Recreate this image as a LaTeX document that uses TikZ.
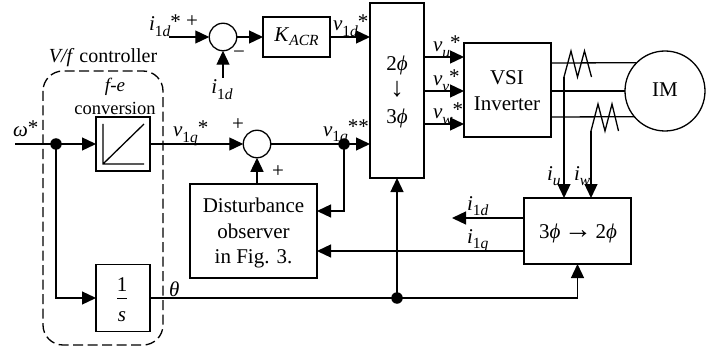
\documentclass[tikz,border=0pt]{standalone}
\usepackage{fontspec}
\setmainfont{Liberation Serif}
\usetikzlibrary{arrows.meta}
\newcommand{\vr}[2]{\textit{#1}\raisebox{-0.25em}{\fontsize{15.5}{15.5}\selectfont #2}}
\newcommand{\st}{\raisebox{0.1em}{*}}
\begin{document}
\begin{tikzpicture}[x=1pt,y=-1pt,
  line width=1.3pt,
  every node/.style={font=\fontsize{21}{24}\selectfont,inner sep=0pt,outer sep=0pt},
  blockbox/.style={draw,fill=white,line width=1.3pt,rectangle,minimum width=#1},
  sumj/.style={draw,fill=white,circle,minimum size=27.5pt,line width=1.3pt},
  dotj/.style={fill=black,circle,minimum size=11.5pt},
  arr/.style={-{Triangle[length=14pt,width=13pt]}},
  lab/.style={anchor=base west},
  clab/.style={anchor=base}]
\useasboundingbox (0,0) rectangle (720,350);
% frame of the controller
\draw[dash pattern=on 10pt off 4.5pt,line width=1.3pt,rounded corners=20pt] (43,71) rectangle (163,345);
% blocks
\node[sumj] (s1) at (223,37) {};
\node[blockbox=67pt,minimum height=40pt] (kacr) at (296.5,37) {\textit{K}\raisebox{-0.2em}{\fontsize{15.5}{15.5}\selectfont\textit{ACR}}};
\node[blockbox=54pt,minimum height=175pt] (tr23) at (397,90.5) {};
\node[blockbox=54pt,minimum height=54pt] (fe) at (123,144) {};
\node[blockbox=54pt,minimum height=67pt] (int) at (123,298) {};
\node[sumj] (s2) at (257,144) {};
\node[blockbox=127pt,minimum height=94pt,align=center] (dob) at (253.5,231) {};
\node[blockbox=87pt,minimum height=94pt] (vsi) at (507.5,90) {};
\node[blockbox=107pt,minimum height=66pt] (tr32) at (577.5,231) {};
\node[draw,circle,minimum size=80pt,line width=1.3pt,fill=white] (im) at (665,91) {};
% junctions and free ends
\node[dotj] (jw) at (56,144) {};
\node[dotj] (jv) at (344,144) {};
\node[dotj] (jt) at (397,298) {};
\coordinate (wstart) at (15,144);
\coordinate (idstart) at (169,37);
\coordinate (idfb) at (223,78);
\coordinate (idend) at (452,218);
\coordinate (cu) at (564,77);
\coordinate (cw) at (591,131);
% connectors
\draw[arr] (idstart) -- (s1.west);
\draw[arr] (idfb) -- (s1.south);
\draw[arr] (s1.east) -- (kacr.west);
\draw[arr] (kacr.east) -- (tr23.west |- kacr.east);
\draw[arr] (wstart) -- (fe.west);
\draw[arr] (fe.east) -- (s2.west);
\draw (s2.east) -- (jv.center);
\draw[arr] (jv.center) -- (tr23.west |- jv.center);
\draw[arr] (jw.center) |- (int.west);
\draw[arr] (dob.north -| s2.south) -- (s2.south);
\draw[arr] (jv.center) |- (dob.east |- 0,211);
\draw[arr] (tr32.west |- 0,251) -- (dob.east |- 0,251);
\draw[arr] (tr32.west |- idend) -- (idend);
\draw (int.east) -- (jt.center);
\draw[arr] (jt.center) -- (tr23.south);
\draw[arr] (jt.center) -| (tr32.south);
\draw[arr] (tr23.east |- 0,57) -- (vsi.west |- 0,57);
\draw[arr] (tr23.east |- 0,91) -- (vsi.west |- 0,91);
\draw[arr] (tr23.east |- 0,124) -- (vsi.west |- 0,124);
\draw (vsi.east |- 0,63) -- (im.135.6);
\draw (vsi.east |- 0,91) -- (im.west);
\draw (vsi.east |- 0,117) -- (im.220.5);
\draw[arr] (cu) -- (cu |- tr32.north);
\draw[arr] (cw) -- (cw |- tr32.north);
\draw (cu) -- ++(7,-26) -- ++(6.5,26) -- ++(7,-26) -- ++(7,26);
\draw (cw) -- ++(7,-27) -- ++(7,27) -- ++(7,-27) -- ++(6.5,27);
% inside the e-f block
\coordinate (fa) at (103,124);
\coordinate (fo) at (103,164);
\coordinate (fb) at (144,164);
\coordinate (fc) at (144,124);
\draw (fa) -- (fo) -- (fb) (fo) -- (fc);
% block labels
\node[clab] (t1) at (253.5,212) {Disturbance};
\node[clab] (t2) at (253.5,238) {observer};
\node[clab] (t3) at (253.5,263) {in Fig. 3.};
\node[clab] (t4) at (507,85) {VSI};
\node[clab] (t5) at (507,111) {Inverter};
\node[clab] (t6) at (665,97) {IM};
\node[clab] (t7) at (397,71) {2\textit{ϕ}};
\node[clab] (t8) at (397,97) {\fontsize{27}{27}\selectfont ↓};
\node[clab] (t9) at (397,124) {3\textit{ϕ}};
\node[clab] (t10) at (578,238) {3\textit{ϕ}\,{\fontsize{28}{28}\selectfont →}\,2\textit{ϕ}};
\node[clab] (t11) at (122,291) {1};
\node[clab] (t12) at (122,321) {\textit{s}};
\coordinate (ba) at (117,298);
\coordinate (bb) at (127,298);
\draw[line width=0.7pt] (ba) -- (bb);
% signal labels
\node[lab] (l1) at (149,31) {\vr{i}{1\textit{d}}\st};
\node[lab] (l2) at (186,28) {+};
\node[lab] (l3) at (233,59) {−};
\node[clab] (l4) at (222,94) {\vr{i}{1\textit{d}}};
\node[lab] (l5) at (333,31) {\vr{v}{1\textit{d}}\st};
\node[clab] (l6) at (103,63) {\fontsize{20}{24}\selectfont\textit{V/f} controller};
\node[clab] (l7) at (115,92) {\fontsize{19}{24}\selectfont\textit{f-e}};
\node[clab] (l8) at (115,115) {\fontsize{18.5}{24}\selectfont conversion};
\node[lab] (l9) at (13,137) {\textit{ω}\st};
\node[lab] (l10) at (173,137) {\vr{v}{1\textit{q}}\st};
\node[lab] (l11) at (232,131) {+};
\node[lab] (l12) at (272,177) {+};
\node[lab] (l13) at (323,136) {\vr{v}{1\textit{q}}\st\st};
\node[lab] (l14) at (169,296) {\textit{θ}};
\node[lab] (l15) at (433,52) {\vr{v}{\textit{u}}\st};
\node[lab] (l16) at (433,86) {\vr{v}{\textit{v}}\st};
\node[lab] (l17) at (433,119) {\vr{v}{\textit{w}}\st};
\node[lab] (l18) at (547,180) {\vr{i}{\textit{u}}};
\node[lab] (l19) at (574,180) {\vr{i}{\textit{w}}};
\node[lab] (l20) at (467,210) {\vr{i}{1\textit{d}}};
\node[lab] (l21) at (467,243) {\vr{i}{1\textit{q}}};
\end{tikzpicture}
\end{document}
